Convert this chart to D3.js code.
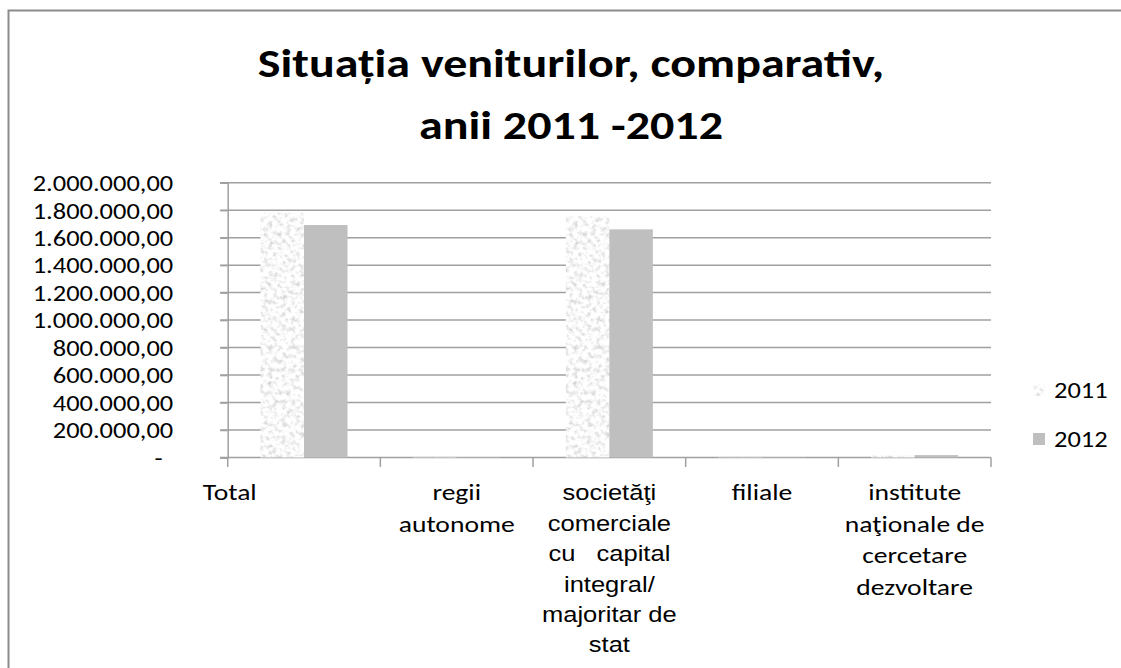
<!DOCTYPE html>
<html>
<head>
<meta charset="utf-8">
<script src="https://cdn.jsdelivr.net/npm/d3@7/dist/d3.min.js"></script>
<style>
  body { margin: 0; background: #fff; }
  svg { display: block; }
  text { fill: #000; }
  .cal { font-family: Carlito, Calibri, Lato, sans-serif; }
  .ari { font-family: "Liberation Sans", Arial, sans-serif; }
</style>
</head>
<body>
<svg id="chart" width="1121" height="668"></svg>
<script>
// chart data
var categories = ["Total", "regii autonome", "societăţi comerciale cu capital integral/ majoritar de stat", "filiale", "institute naţionale de cercetare dezvoltare"];
var categoryLines = [
  ["Total"],
  ["regii", "autonome"],
  ["societăţi", "comerciale", "cu   capital", "integral/", "majoritar de", "stat"],
  ["filiale"],
  ["institute", "naţionale de", "cercetare", "dezvoltare"]
];
var seriesNames = ["2011", "2012"];
var values2011 = [1781500, 3000, 1755300, 2500, 14200];
var values2012 = [1692000, 3500, 1660600, 3000, 17400];
var titleLines = ["Situația veniturilor, comparativ,", "anii 2011 -2012"];

var svg = d3.select("#chart"),
    width = +svg.attr("width"),
    height = +svg.attr("height");

var plotL = 227.7, plotR = 991, plotT = 182.7, plotB = 457.5;
var stretch = 1.2; // the source picture is a bit wider than Lato

var roLocale = d3.formatLocale({decimal: ",", thousands: ".", grouping: [3], currency: ["", ""]});
var fmt = roLocale.format(",.2f");

var x0 = d3.scaleBand().domain(categories).range([plotL, plotR]).padding(0);
var x1 = d3.scaleBand().domain(seriesNames).range([0, x0.bandwidth()]).paddingInner(0).paddingOuter(0.755);
var y = d3.scaleLinear().domain([0, 2000000]).range([plotB, plotT]);

// granite texture for 2011
var defs = svg.append("defs");
var filt = defs.append("filter").attr("id", "granite")
    .attr("x", 0).attr("y", 0).attr("width", 1).attr("height", 1);
filt.append("feTurbulence").attr("type", "fractalNoise")
    .attr("baseFrequency", 0.22).attr("numOctaves", 3).attr("seed", 7).attr("result", "noise");
filt.append("feColorMatrix").attr("in", "noise").attr("type", "matrix")
    .attr("values", "0.85 0 0 0 0.52  0.85 0 0 0 0.52  0.85 0 0 0 0.52  0 0 0 0 1")
    .attr("result", "gray");
filt.append("feComposite").attr("in", "gray").attr("in2", "SourceGraphic").attr("operator", "in");

var fills = {"2011": "#efefef", "2012": "#bfbfbf"};
function styleBar(sel, s) {
  sel.attr("fill", fills[s]);
  if (s == "2011") sel.attr("filter", "url(#granite)");
}

// frame
svg.append("path")
    .attr("d", "M8.5," + height + "V10.5H" + width)
    .attr("fill", "none").attr("stroke", "#8c8c8c").attr("stroke-width", 2);

// title
svg.append("g")
    .attr("transform", "translate(571,0) scale(" + stretch + ",1)")
  .append("text").attr("class", "cal")
    .attr("text-anchor", "middle")
    .style("font-size", "40px").style("font-weight", "bold")
  .selectAll("tspan").data(titleLines).enter().append("tspan")
    .attr("x", 0)
    .attr("y", function(d, i) { return 77 + i * 62; })
    .text(function(d) { return d; });

// gridlines
svg.append("g").selectAll("line")
    .data(y.ticks(10))
    .enter().append("line")
      .attr("x1", plotL - 7.5).attr("x2", plotR)
      .attr("y1", function(d) { return y(d); })
      .attr("y2", function(d) { return y(d); })
      .attr("stroke", "#a0a0a0").attr("stroke-width", 1.5);

// y axis
var yAxis = svg.append("g")
    .attr("transform", "translate(" + plotL + ",0)")
    .call(d3.axisLeft(y).ticks(10).tickSize(7.5).tickPadding(47)
      .tickFormat(function(d) { return d === 0 ? "-" : fmt(d); }));
yAxis.select(".domain").attr("stroke", "#a0a0a0").attr("stroke-width", 1.5);
yAxis.selectAll(".tick line").attr("stroke", "#a0a0a0").attr("stroke-width", 1.5);
yAxis.selectAll(".tick text")
    .attr("class", "cal")
    .style("font-size", "23px").attr("fill", "#000")
    .attr("x", 0)
    .attr("dy", "0.34em")
    .attr("transform", function(d) { return "translate(" + (d === 0 ? -65 : -54.5) + ",0) scale(1.15,1)"; });

// x axis ticks at band boundaries
var bounds = categories.map(function(c) { return x0(c); }).concat([plotR]);
svg.append("g").selectAll("line")
    .data(bounds)
    .enter().append("line")
      .attr("x1", function(d) { return d; }).attr("x2", function(d) { return d; })
      .attr("y1", plotB).attr("y2", plotB + 9.5)
      .attr("stroke", "#a0a0a0").attr("stroke-width", 1.5);

// bars
var rows = categories.map(function(c, i) {
  return {cat: c, vals: [{s: "2011", v: values2011[i]}, {s: "2012", v: values2012[i]}]};
});
var groups = svg.append("g").selectAll("g")
    .data(rows)
    .enter().append("g")
      .attr("transform", function(d) { return "translate(" + x0(d.cat) + ",0)"; });
groups.selectAll("rect")
    .data(function(d) { return d.vals; })
    .enter().append("rect")
      .attr("x", function(d) { return x1(d.s); })
      .attr("width", x1.bandwidth())
      .attr("y", function(d) { return y(d.v); })
      .attr("height", function(d) { return plotB - y(d.v); })
      .each(function(d) { styleBar(d3.select(this), d.s); });

// category labels (Total sits left, the others are centred)
var labels = svg.append("g").selectAll("g")
    .data(rows)
    .enter().append("g")
      .attr("transform", function(d, i) {
        var cx = i == 0 ? x0(d.cat) - 25 : x0(d.cat) + x0.bandwidth() / 2;
        var sx = i == 2 ? 1.16 : stretch;
        return "translate(" + cx + ",0) scale(" + sx + ",1)";
      })
    .append("text")
      .attr("class", function(d, i) { return i == 2 ? "ari" : "cal"; })
      .style("font-size", function(d, i) { return i == 2 ? "22px" : "23px"; })
      .style("white-space", "pre")
      .attr("text-anchor", function(d, i) { return i == 0 ? "start" : "middle"; });
labels.selectAll("tspan")
    .data(function(d, i) {
      var lh = i == 2 ? 30.4 : 31.5;
      return categoryLines[i].map(function(t, j) { return {t: t, y: 500.5 + j * lh}; });
    })
    .enter().append("tspan")
      .attr("x", 0)
      .attr("y", function(d) { return d.y; })
      .text(function(d) { return d.t; });

// legend
var legend = svg.append("g").selectAll("g")
    .data(seriesNames)
    .enter().append("g")
      .attr("transform", function(d, i) { return "translate(1033," + (384 + i * 49) + ")"; });
legend.append("rect")
    .attr("width", 12).attr("height", 12)
    .each(function(d) { styleBar(d3.select(this), d); });
legend.append("g")
    .attr("transform", "translate(21,0) scale(1.15,1)")
  .append("text").attr("class", "cal")
    .attr("y", 13.5)
    .style("font-size", "23px")
    .text(function(d) { return d; });
</script>
</body>
</html>
